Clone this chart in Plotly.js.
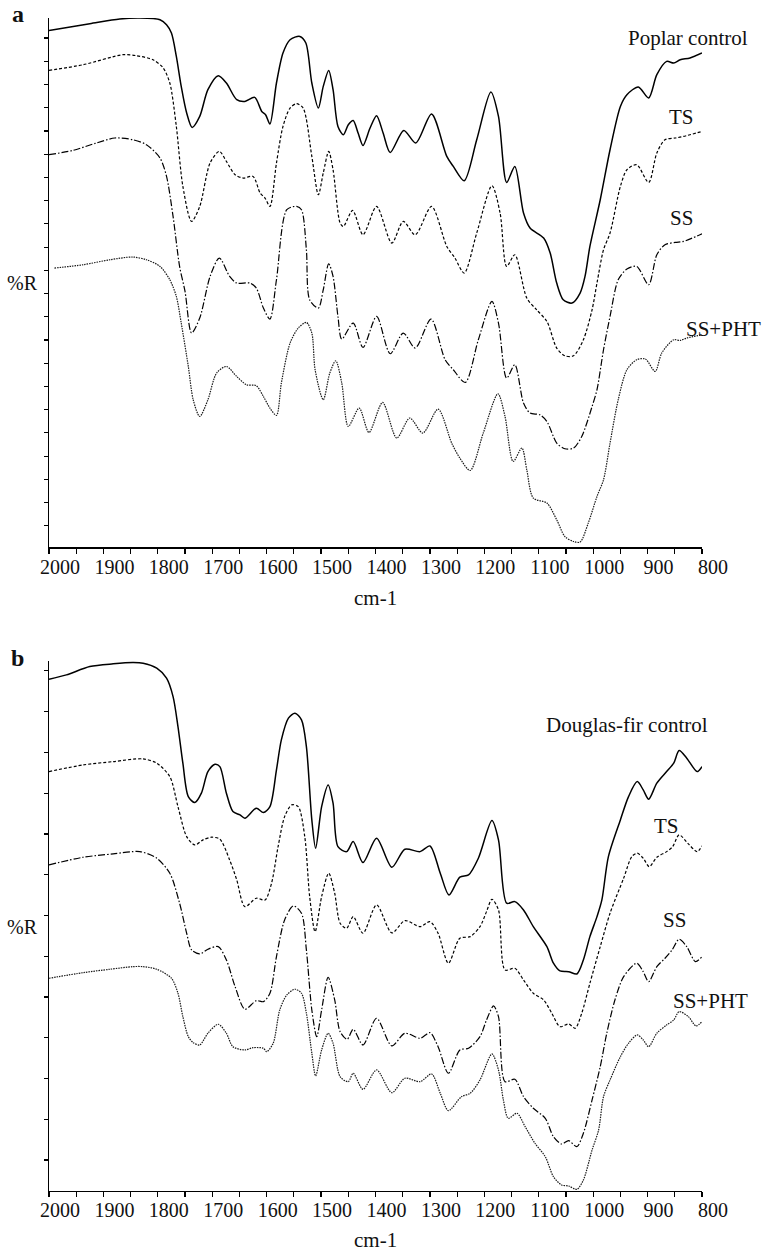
<!DOCTYPE html>
<html>
<head>
<meta charset="utf-8">
<script src="https://cdn.plot.ly/plotly-3.0.1.min.js"></script>
<style>html,body{margin:0;padding:0;background:#fff;}#chart{width:766px;height:1256px;}</style>
</head>
<body>
<div id="chart"></div>
<script>
// ---------- Panel a: Poplar ----------
const wnPoplarControl = [2000,1925,1870,1833,1796,1784,1775,1766,1757,1747,1737,1723,1708,1689,1674,1655,1640,1622,1609,1602,1594,1582,1570,1557,1539,1528,1517,1505,1496,1486,1478,1469,1459,1450,1441,1432,1423,1410,1398,1386,1373,1348,1326,1297,1269,1257,1237,1214,1188,1174,1159,1144,1128,1116,1091,1079,1067,1055,1039,1024,1015,1006,987,969,950,938,917,898,883,865,852,840,822,800];
const rPoplarControl = [51.70,52.37,52.84,52.94,52.77,52.27,51.44,49.10,46.10,43.44,42.00,43.10,45.77,47.17,46.44,44.77,44.60,45.00,43.60,43.27,42.34,46.44,49.44,50.77,51.10,50.44,46.44,43.94,46.10,47.70,45.77,42.10,41.27,42.27,42.70,41.44,40.20,41.94,43.17,41.44,39.50,41.70,40.44,43.34,39.10,38.10,36.67,40.77,45.54,43.10,36.50,38.10,33.44,31.94,30.94,29.44,26.44,24.77,24.44,25.44,27.10,30.10,34.77,39.77,44.10,45.27,46.04,44.94,47.27,48.60,48.44,48.77,48.94,49.44];

const wnPoplarTS = [2000,1937,1864,1839,1809,1790,1778,1766,1754,1738,1723,1704,1687,1674,1658,1643,1625,1612,1603,1594,1582,1570,1557,1545,1533,1517,1505,1496,1486,1478,1465,1459,1442,1423,1398,1370,1349,1327,1297,1269,1254,1237,1214,1186,1171,1159,1144,1122,1104,1085,1067,1052,1036,1018,1002,993,981,969,950,938,920,898,883,868,849,834,800];
const rPoplarTS = [47.70,48.27,49.27,49.17,48.77,47.94,46.44,42.10,36.10,32.60,34.10,38.44,39.60,38.60,37.27,36.94,37.10,35.44,34.94,34.10,38.44,42.10,43.94,44.37,43.94,39.10,35.27,37.44,39.60,37.77,32.44,32.10,33.70,31.27,34.10,30.44,32.60,31.27,34.10,30.10,28.94,27.44,31.44,36.17,33.44,28.10,29.27,24.94,23.77,22.60,19.94,19.17,19.17,20.77,23.77,26.44,29.77,31.44,36.10,37.77,38.27,36.50,39.44,40.77,40.94,41.10,41.60];

const wnPoplarSS = [2000,1956,1913,1879,1846,1821,1796,1784,1772,1760,1750,1738,1723,1704,1687,1668,1655,1631,1619,1606,1594,1582,1563,1545,1536,1527,1521,1505,1496,1486,1478,1469,1462,1441,1423,1398,1373,1349,1327,1298,1272,1257,1235,1211,1186,1174,1159,1144,1128,1116,1098,1085,1067,1052,1036,1021,1002,993,981,969,954,938,920,898,883,868,849,834,800];
const rPoplarSS = [39.27,39.70,40.44,40.94,40.77,40.27,38.94,37.10,33.10,28.10,25.60,21.44,22.94,27.10,28.94,27.10,26.44,26.44,25.94,23.94,22.84,26.77,33.77,34.10,33.77,29.77,24.77,23.94,25.77,28.37,27.10,23.10,20.84,22.44,20.00,23.10,19.37,21.44,19.94,22.84,18.77,17.77,16.50,20.77,24.60,22.44,16.94,18.27,14.44,13.44,13.27,12.60,10.44,9.87,9.94,11.10,14.10,15.77,19.77,23.10,26.77,27.84,28.10,26.27,29.27,30.27,30.50,30.60,31.37];

const wnPoplarSSPHT = [1990,1937,1888,1846,1821,1796,1778,1766,1757,1744,1735,1723,1708,1692,1674,1655,1637,1619,1606,1594,1582,1573,1557,1542,1527,1517,1511,1496,1484,1473,1462,1450,1430,1412,1387,1361,1337,1313,1285,1260,1245,1226,1202,1175,1162,1147,1131,1122,1110,1085,1067,1052,1036,1024,1009,993,981,969,954,938,920,904,886,874,852,840,828,800];
const rPoplarSSPHT = [27.94,28.27,28.77,29.04,28.77,28.10,26.77,25.10,22.44,18.10,14.77,13.10,14.77,17.44,18.10,17.10,16.27,16.17,15.10,13.94,13.20,16.44,20.44,21.94,22.50,21.44,17.77,14.77,17.44,18.67,16.44,12.10,13.94,11.50,14.50,10.94,12.94,11.44,13.84,10.44,8.94,7.70,11.44,15.37,13.10,8.60,9.94,7.77,4.94,4.44,2.77,1.10,0.60,0.54,2.44,5.10,6.77,10.44,14.77,17.77,18.77,18.84,17.60,19.44,20.77,20.70,20.94,21.27];

// ---------- Panel b: Douglas-fir ----------
const wnFirControl = [2000,1968,1925,1882,1846,1827,1802,1784,1772,1763,1754,1744,1732,1720,1708,1695,1686,1674,1662,1649,1640,1619,1606,1594,1582,1573,1560,1548,1536,1527,1517,1510,1499,1487,1478,1469,1453,1441,1423,1398,1370,1346,1318,1300,1281,1265,1245,1229,1211,1186,1174,1159,1144,1128,1110,1085,1073,1061,1045,1030,1018,1006,993,984,972,950,935,919,908,898,883,865,852,842,828,809,800];
const rFirControl = [51.17,51.60,52.43,52.70,52.83,52.77,52.27,51.27,49.43,46.43,42.77,39.43,38.83,39.77,41.93,42.67,42.43,39.77,37.93,37.60,37.27,38.27,37.83,38.43,42.10,45.10,47.27,47.77,47.10,44.43,37.10,34.27,38.43,40.60,38.77,34.43,33.93,34.93,32.83,35.27,32.37,34.17,33.93,34.50,31.77,29.60,31.37,31.60,33.27,37.03,35.10,28.77,28.93,28.10,26.43,24.43,22.77,22.00,21.93,21.70,23.10,25.43,27.43,29.10,33.43,37.10,39.43,40.93,40.10,39.17,40.77,41.93,42.77,44.03,43.27,41.93,42.43];

const wnFirTS = [2000,1937,1882,1827,1802,1778,1763,1747,1732,1717,1701,1686,1668,1655,1640,1619,1603,1591,1579,1567,1554,1542,1530,1521,1511,1499,1486,1475,1465,1453,1441,1423,1398,1370,1346,1318,1300,1285,1266,1245,1226,1208,1196,1186,1174,1162,1144,1128,1110,1091,1076,1061,1045,1033,1021,1006,987,969,944,929,919,908,897,883,865,854,842,825,809,800];
const rFirTS = [41.93,42.60,42.93,43.20,42.77,41.43,38.43,35.43,34.60,35.10,35.37,35.17,33.10,31.10,28.43,29.27,29.10,30.77,34.43,37.43,38.60,38.43,35.43,29.43,25.93,29.43,31.77,29.77,26.77,26.27,27.43,25.77,28.60,25.80,27.03,26.43,26.93,25.77,22.77,25.27,25.43,26.43,27.93,29.17,28.10,22.10,22.27,21.10,19.77,19.10,17.77,16.43,16.70,16.27,17.77,20.77,24.43,27.77,31.27,33.43,33.77,33.27,32.43,33.37,33.93,34.43,35.60,34.70,33.93,34.50];

const wnFirSS = [2000,1937,1882,1833,1802,1778,1760,1747,1738,1723,1708,1689,1674,1658,1640,1619,1606,1594,1582,1567,1551,1536,1527,1517,1508,1499,1487,1475,1465,1452,1441,1423,1398,1370,1346,1318,1300,1285,1266,1245,1229,1208,1196,1183,1174,1162,1144,1128,1110,1088,1073,1058,1045,1030,1018,1002,987,975,960,944,920,908,898,883,868,855,842,828,812,800];
const rFirSS = [32.60,33.37,33.70,33.93,33.27,31.77,28.77,25.77,24.10,23.70,24.17,24.43,23.10,20.43,18.17,19.03,18.93,19.77,23.43,27.10,28.50,27.77,24.10,18.10,15.43,18.10,21.37,19.10,15.93,15.17,16.17,14.60,17.27,14.50,15.77,15.27,15.83,14.43,11.77,14.10,14.27,15.43,17.10,18.50,17.43,10.93,11.17,9.43,8.27,7.27,5.43,4.70,5.03,4.43,5.77,9.10,12.43,15.77,19.10,21.43,22.77,21.93,20.93,22.43,23.27,24.10,25.17,24.43,22.93,23.43];

const wnFirSSPHT = [2000,1937,1888,1846,1827,1802,1775,1763,1754,1744,1735,1723,1708,1689,1674,1662,1640,1625,1606,1600,1588,1576,1563,1548,1536,1527,1517,1510,1499,1487,1478,1465,1450,1441,1423,1398,1370,1346,1318,1297,1281,1266,1242,1226,1208,1186,1174,1165,1156,1140,1125,1107,1088,1073,1058,1045,1030,1018,1002,990,981,969,950,935,919,908,898,883,865,852,842,825,811,800];
const rFirSSPHT = [21.27,21.83,22.17,22.43,22.43,22.17,21.27,19.77,17.43,15.43,14.83,14.60,15.77,16.67,15.77,14.43,14.10,14.33,14.27,13.93,14.77,18.10,19.60,20.17,19.77,17.77,13.77,11.50,14.10,15.77,14.77,11.43,10.93,11.77,10.17,12.10,9.83,11.27,10.93,11.70,9.77,8.03,9.43,9.77,11.10,13.70,12.10,9.10,7.27,7.77,6.43,4.77,3.43,1.43,0.60,0.50,0.17,1.10,4.10,6.10,9.43,11.10,13.43,14.77,15.60,15.10,14.43,15.77,16.60,17.10,17.93,17.43,16.50,16.93];

// labels
const xTickVals = [2000,1900,1800,1700,1600,1500,1400,1300,1200,1100,1000,900,800];
const panelLabels = ['a','b'];
const seriesLabelsA = ['Poplar control','TS','SS','SS+PHT'];
const seriesLabelsB = ['Douglas-fir control','TS','SS','SS+PHT'];
const yTitle = '%R';
const xTitle = 'cm-1';

// ---------- styles ----------
const styles = [
  {color:'#000', width:1.5, dash:'solid'},
  {color:'#000', width:1.2, dash:'3px,2px'},
  {color:'#000', width:1.2, dash:'7px,2px,1.5px,2px'},
  {color:'#1a1a1a', width:1.2, dash:'1.5px,1px'}
];

function tr(x, y, xa, ya, st, name){
  return {x:x, y:y, xaxis:xa, yaxis:ya, type:'scatter', mode:'lines', name:name,
    line:{color:st.color, width:st.width, dash:st.dash, shape:'spline', smoothing:0.8},
    hoverinfo:'skip'};
}

const data = [
  tr(wnPoplarControl, rPoplarControl, 'x', 'y', styles[0], seriesLabelsA[0]),
  tr(wnPoplarTS, rPoplarTS, 'x', 'y', styles[1], seriesLabelsA[1]),
  tr(wnPoplarSS, rPoplarSS, 'x', 'y', styles[2], seriesLabelsA[2]),
  tr(wnPoplarSSPHT, rPoplarSSPHT, 'x', 'y', styles[3], seriesLabelsA[3]),
  tr(wnFirControl, rFirControl, 'x2', 'y2', styles[0], seriesLabelsB[0]),
  tr(wnFirTS, rFirTS, 'x2', 'y2', styles[1], seriesLabelsB[1]),
  tr(wnFirSS, rFirSS, 'x2', 'y2', styles[2], seriesLabelsB[2]),
  tr(wnFirSSPHT, rFirSSPHT, 'x2', 'y2', styles[3], seriesLabelsB[3])
];

const serif = '"Liberation Serif", "Times New Roman", serif';

function xAxis(anchor){
  return {
    anchor:anchor, domain:[0,1], range:[2000,800],
    tickmode:'array', tickvals:xTickVals, ticktext:xTickVals.map(String),
    ticks:'outside', ticklen:5, tickwidth:1.2, tickcolor:'#000',
    minor:{dtick:50, tick0:800, ticks:'outside', ticklen:5, tickwidth:1.2, tickcolor:'#000', showgrid:false},
    ticklabelshift:-11,
    ticklabelstandoff:-4,
    tickfont:{family:serif, size:20, color:'#111'},
    showline:true, linecolor:'#000', linewidth:1.3,
    showgrid:false, zeroline:false, fixedrange:true
  };
}
function yAxis(anchor, domain, range, tick0, dtick){
  return {
    anchor:anchor, domain:domain, range:range,
    tickmode:'linear', tick0:tick0, dtick:dtick,
    ticks:'outside', ticklen:4, tickwidth:1.2, tickcolor:'#000',
    showticklabels:false,
    showline:true, linecolor:'#000', linewidth:1.3,
    showgrid:false, zeroline:false, fixedrange:true
  };
}

function ann(text, x, y, size, bold, xanchor){
  return {text: bold ? '<b>'+text+'</b>' : text, x:x, y:y, xref:'paper', yref:'paper',
    showarrow:false, xanchor:xanchor||'center', yanchor:'middle',
    font:{family:serif, size:size, color:'#111'}};
}

const layout = {
  width:766, height:1256,
  margin:{l:49, r:64, t:18, b:65, pad:0},
  paper_bgcolor:'#fff', plot_bgcolor:'#fff',
  showlegend:false,
  font:{family:serif, size:20, color:'#111'},
  xaxis: xAxis('y'),
  yaxis: yAxis('x', [0.5486,1], [0,52.94], 2.17, 2.322),
  xaxis2: xAxis('y2'),
  yaxis2: yAxis('x2', [0,0.4522], [0,53.03], 3.1, 4.075),
  annotations:[
    ann(panelLabels[0], -0.0475, 1.0032, 24, true),
    ann(panelLabels[1], -0.0475, 0.4545, 24, true),
    ann(yTitle, -0.0406, 0.7743, 20),
    ann(yTitle, -0.0406, 0.2251, 20),
    ann(xTitle, 0.5, 0.5059, 21),
    ann(xTitle, 0.5, -0.0418, 21),
    ann(seriesLabelsA[0], 0.9787, 0.9828, 21),
    ann(seriesLabelsA[1], 0.9693, 0.9158, 21),
    ann(seriesLabelsA[2], 0.9693, 0.8297, 21),
    ann(seriesLabelsA[3], 1.0331, 0.7351, 21),
    ann(seriesLabelsB[0], 0.8850, 0.3974, 21),
    ann(seriesLabelsB[1], 0.9453, 0.3112, 21),
    ann(seriesLabelsB[2], 0.9575, 0.2311, 21),
    ann(seriesLabelsB[3], 1.0123, 0.1620, 21)
  ]
};

Plotly.newPlot('chart', data, layout, {displayModeBar:false, staticPlot:true});
</script>
</body>
</html>
